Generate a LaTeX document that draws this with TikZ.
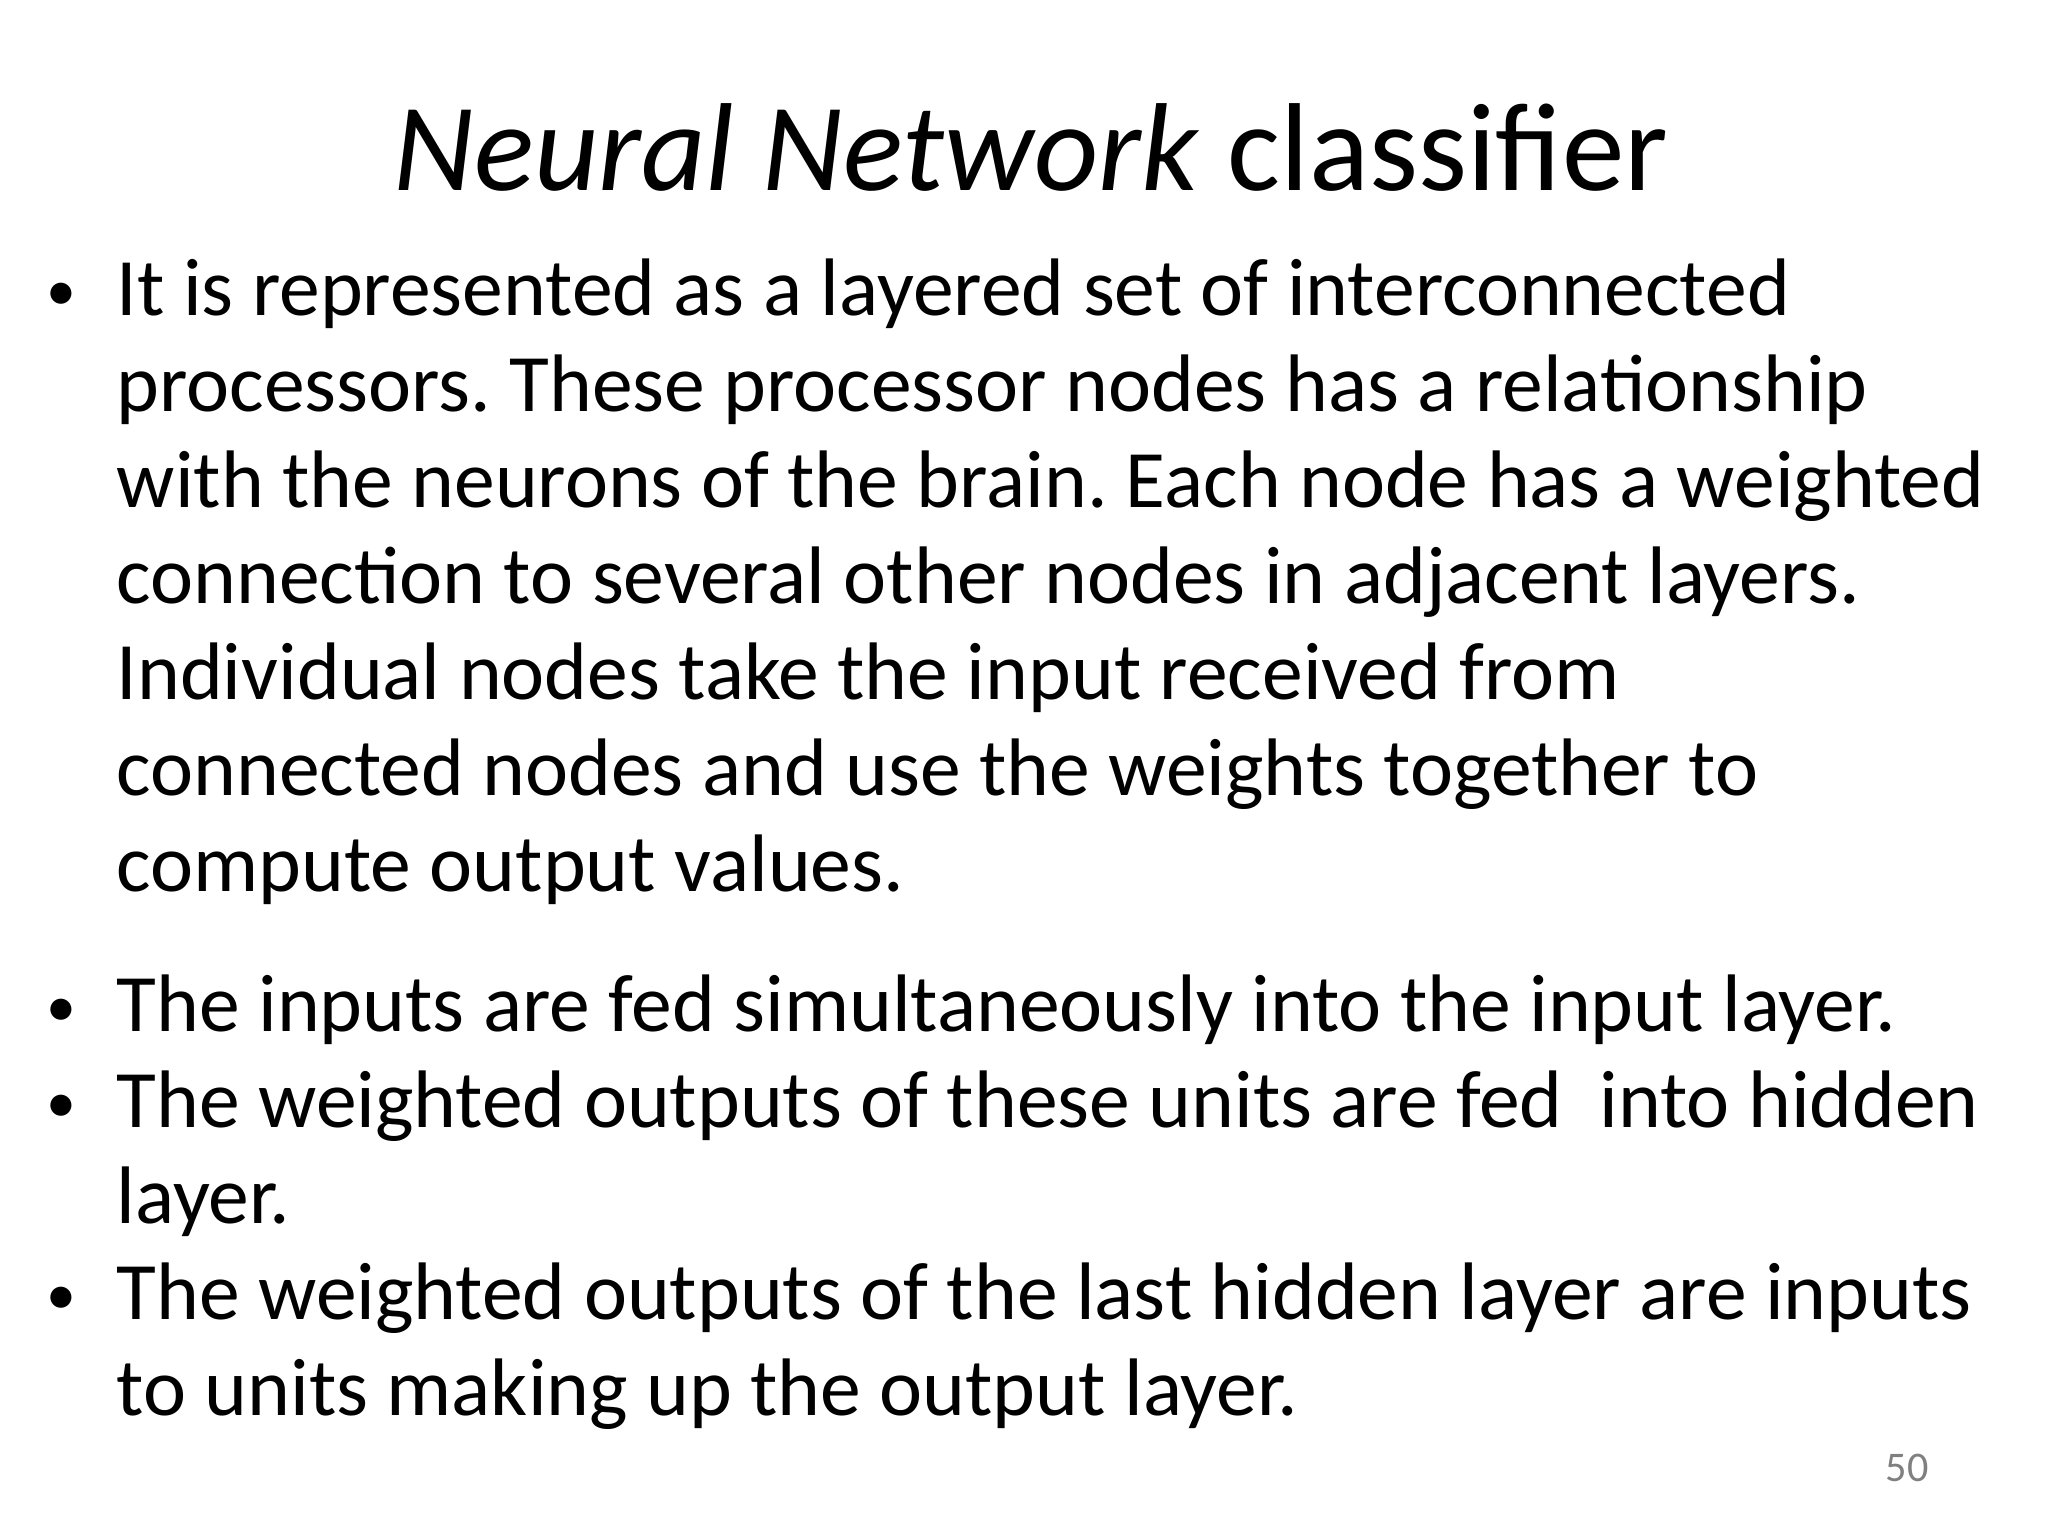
\documentclass[tikz,border=0pt]{standalone}
\usepackage{fontspec}
\setmainfont{Carlito}
\frenchspacing
\begin{document}
\begin{tikzpicture}[x=0.01cm,y=-0.01cm,
  body/.style={anchor=base west,inner sep=0pt,font=\fontsize{23.2}{28}\selectfont},
  bul/.style={anchor=base,inner sep=0pt,font=\fontsize{17}{20}\selectfont}]
\useasboundingbox (0,0) rectangle (2048,1536);
\node[anchor=base,inner sep=0pt,font=\fontsize{35.6}{40}\selectfont] (title) at (1031,190) {\textit{Neural Network} classifier};
\node[bul] (b1) at (61,310) {•};
\node[body] (l1) at (116,315) {It is represented as a layered set of interconnected};
\node[body] (l2) at (116,411) {processors. These processor nodes has a relationship};
\node[body] (l3) at (116,507) {with the neurons of the brain. Each node has a weighted};
\node[body] (l4) at (116,603) {connection to several other nodes in adjacent layers.};
\node[body] (l5) at (116,699) {Individual nodes take the input received from};
\node[body] (l6) at (116,795) {connected nodes and use the weights together to};
\node[body] (l7) at (116,891) {compute output values.};
\node[bul] (b2) at (61,1026) {•};
\node[body] (m1) at (116,1031) {The inputs are fed simultaneously into the input layer.};
\node[bul] (b3) at (61,1122) {•};
\node[body] (m2) at (116,1127) {The weighted outputs of these units are fed\ \ into hidden};
\node[body] (m3) at (116,1223) {layer.};
\node[bul] (b4) at (61,1314) {•};
\node[body] (m4) at (116,1319) {The weighted outputs of the last hidden layer are inputs};
\node[body] (m5) at (116,1415) {to units making up the output layer.};
\node[anchor=base,inner sep=0pt,text=gray,font=\fontsize{12}{14}\selectfont] (pg) at (1907,1481) {50};
\end{tikzpicture}
\end{document}
